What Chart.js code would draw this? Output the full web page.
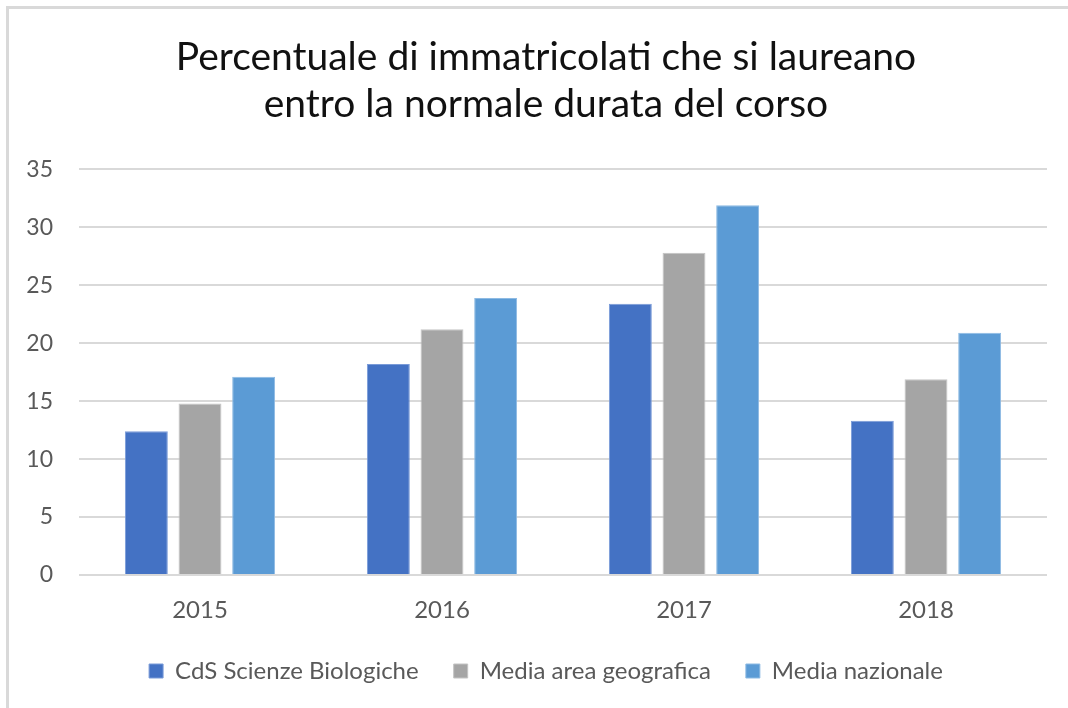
<!DOCTYPE html>
<html>
<head>
<meta charset="utf-8">
<script src="https://cdn.jsdelivr.net/npm/chart.js@4.4.1/dist/chart.umd.min.js"></script>
<style>
  html, body { margin: 0; padding: 0; background: #fff; }
  #wrap { position: relative; width: 1068px; height: 708px; overflow: hidden; }
  #frame { position: absolute; left: 6px; top: 6px; width: 1100px; height: 800px;
           border-top: 3px solid #d9d9d9; border-left: 3px solid #d9d9d9; box-sizing: border-box; }
  #c { position: absolute; left: 0; top: 0; }
</style>
</head>
<body>
<div id="wrap">
  <div id="frame"></div>
  <canvas id="c" width="1092" height="708"></canvas>
</div>
<script>
const titleLines = ["Percentuale di immatricolati che si laureano", "entro la normale durata del corso"];
const categories = ["2015", "2016", "2017", "2018"];
const seriesNames = ["CdS Scienze Biologiche", "Media area geografica", "Media nazionale"];
const cdsValues = [12.4, 18.2, 23.4, 13.3];
const areaValues = [14.8, 21.2, 27.8, 16.9];
const nazValues = [17.1, 23.9, 31.9, 20.9];
const yTicks = [0, 5, 10, 15, 20, 25, 30, 35];
const colors = ["#4472C4", "#A5A5A5", "#5B9BD5"];
const borders = ["#7A9BD8", "#C4C4C4", "#8DBAE3"];

const FONT = "Lato, 'Open Sans', sans-serif";
const seriesValues = [cdsValues, areaValues, nazValues];

new Chart(document.getElementById("c"), {
  type: "bar",
  data: {
    labels: categories,
    datasets: seriesNames.map((n, i) => ({
      label: n,
      data: seriesValues[i],
      backgroundColor: colors[i],
      borderColor: borders[i],
      borderWidth: 1,
      categoryPercentage: 0.665,
      barPercentage: 0.8
    }))
  },
  options: {
    responsive: false,
    animation: false,
    devicePixelRatio: 1,
    layout: { padding: { left: 20, right: 20, top: 34, bottom: 15 } },
    plugins: {
      title: {
        display: true,
        text: titleLines,
        color: "#111",
        font: { family: FONT, size: 39, weight: "normal", lineHeight: 1.21 },
        padding: { top: 0, bottom: 41 }
      },
      legend: {
        position: "bottom",
        labels: {
          color: "#595959",
          font: { family: FONT, size: 24 },
          boxWidth: 14,
          boxHeight: 14,
          padding: 35,
          useBorderRadius: false
        }
      },
      tooltip: { enabled: false }
    },
    scales: {
      x: {
        afterFit: (axis) => { axis.height = 49; },
        grid: { display: false },
        border: { display: false },
        ticks: { color: "#595959", font: { family: FONT, size: 24, lineHeight: 1.0 }, padding: 15 }
      },
      y: {
        min: 0,
        max: 35,
        afterBuildTicks: (axis) => { axis.ticks = yTicks.map(v => ({ value: v })); },
        afterFit: (axis) => { axis.width = 59; },
        grid: { color: "#d9d9d9", lineWidth: 2, drawTicks: false },
        border: { display: false },
        ticks: { color: "#595959", font: { family: FONT, size: 23 }, padding: 26 }
      },
      yRight: {
        type: "linear",
        position: "right",
        display: true,
        afterFit: (axis) => { axis.width = 25; },
        grid: { display: false, drawTicks: false },
        border: { display: false },
        ticks: { display: false }
      }
    }
  }
});
</script>
</body>
</html>
